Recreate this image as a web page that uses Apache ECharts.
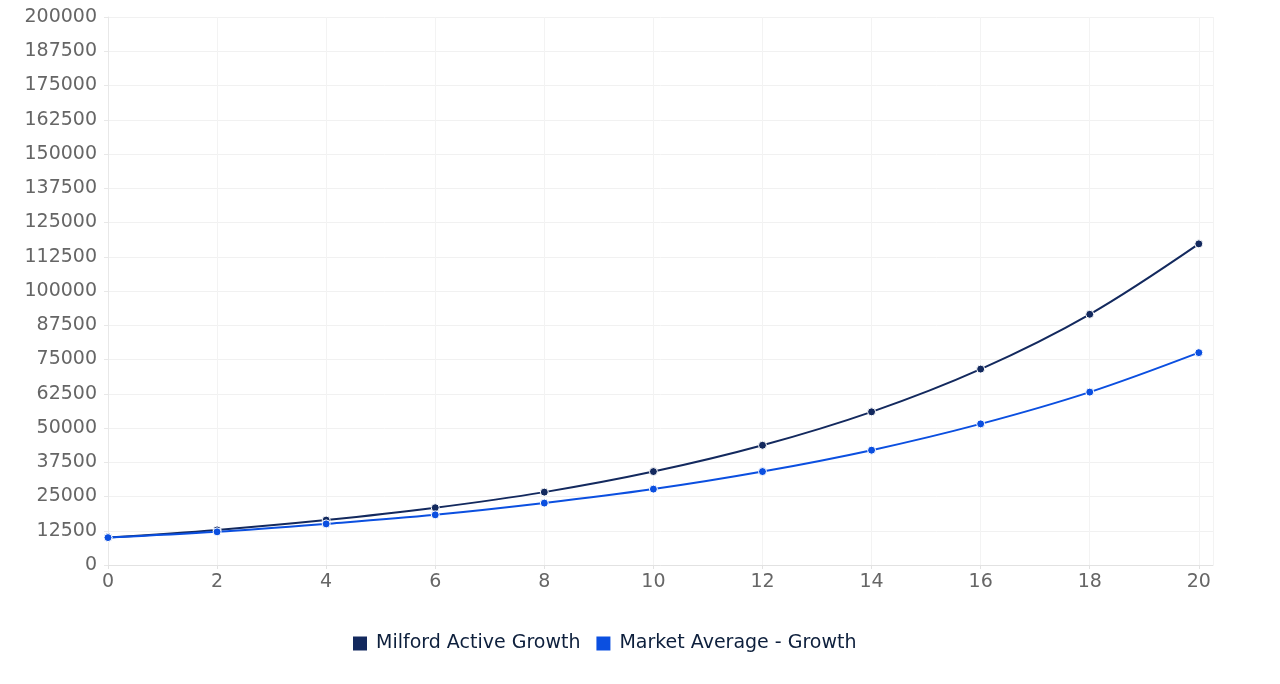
<!DOCTYPE html>
<html>
<head>
<meta charset="utf-8">
<title>Growth comparison</title>
<script src="https://cdn.jsdelivr.net/npm/echarts@6/dist/echarts.min.js"></script>
<style>
  html, body { margin: 0; padding: 0; background: #fff; }
  #chart { width: 1280px; height: 684px; }
</style>
</head>
<body>
<div id="chart"></div>
<script>
// years on the x axis
const years = [0, 2, 4, 6, 8, 10, 12, 14, 16, 18, 20];

// values
const milfordValues = [10000, 12800, 16400, 20900, 26600, 34100, 43700, 55900, 71500, 91500, 117200];
const marketValues = [10000, 12100, 15000, 18300, 22600, 27700, 34100, 41900, 51500, 63100, 77500];

const seriesNames = ['Milford Active Growth', 'Market Average - Growth'];
const seriesColors = ['#13295e', '#0b4fe0'];

const FONT = 'DejaVu Sans';

const chart = echarts.init(document.getElementById('chart'));

const toPairs = vals => years.map((x, i) => [x, vals[i]]);

const makeSeries = (name, vals, color) => ({
    name: name,
    type: 'line',
    smooth: 0.35,
    data: toPairs(vals),
    symbol: 'circle',
    symbolSize: 8,
    lineStyle: { color: color, width: 2 },
    itemStyle: { color: color, borderColor: '#fff', borderWidth: 1 }
});

const option = {
    animation: false,
    textStyle: { fontFamily: FONT },
    grid: { left: 108, right: 67, top: 17, bottom: 119 },
    legend: {
        data: seriesNames,
        top: 629,
        left: 346,
        icon: 'rect',
        itemWidth: 16,
        itemHeight: 16,
        itemGap: 14,
        textStyle: { fontFamily: FONT, fontSize: 19, color: '#0d1f3c', padding: [0, 0, 0, 3] }
    },
    xAxis: {
        type: 'value',
        min: 0,
        max: 20.26,
        interval: 2,
        axisLine: { lineStyle: { color: '#e2e2e2' } },
        axisTick: { show: true, length: 4, lineStyle: { color: '#e2e2e2' } },
        axisLabel: {
            fontFamily: FONT,
            fontSize: 19,
            color: '#666',
            margin: 8,
            showMaxLabel: false,
            formatter: v => (v % 2 === 0 ? String(v) : '')
        },
        splitLine: { show: true, lineStyle: { color: '#f3f3f3' } }
    },
    yAxis: {
        type: 'value',
        min: 0,
        max: 200000,
        interval: 12500,
        axisLine: { show: true, lineStyle: { color: '#e8e8e8' } },
        axisTick: { show: true, length: 4, lineStyle: { color: '#e8e8e8' } },
        axisLabel: {
            fontFamily: FONT,
            fontSize: 19,
            color: '#666',
            margin: 11,
            formatter: v => String(v)
        },
        splitLine: { show: true, lineStyle: { color: '#f1f1f1' } }
    },
    series: [
        makeSeries(seriesNames[0], milfordValues, seriesColors[0]),
        makeSeries(seriesNames[1], marketValues, seriesColors[1])
    ]
};

chart.setOption(option);
</script>
</body>
</html>
